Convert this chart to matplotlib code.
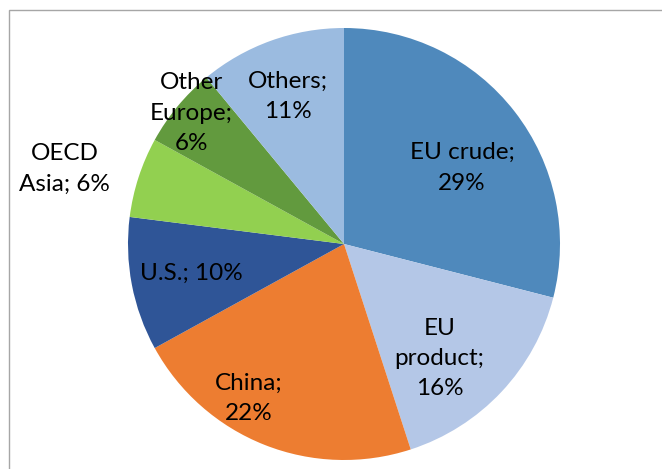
import numpy as np
import matplotlib
matplotlib.use('Agg')
import matplotlib.pyplot as plt
from matplotlib.patches import Rectangle

# data
labels = ['EU crude', 'EU\nproduct', 'China', 'U.S.', 'OECD\nAsia', 'Other\nEurope', 'Others']
shares = [29, 16, 22, 10, 6, 6, 11]
colors = ['#4F89BC', '#B4C7E7', '#ED7D31', '#2F5597', '#92D050', '#629A3E', '#9BBBE0']
# label layout (fraction of radius, angle tweak in degrees, text)
label_text = ['EU crude;\n29%', 'EU\nproduct;\n16%', 'China;\n22%', 'U.S.; 10%',
              'OECD\nAsia; 6%', 'Other\nEurope;\n6%', 'Others;\n11%']
label_r = [0.65, 0.69, 0.84, 0.72, 1.34, 0.93, 0.73]
label_da = [5, 7, 10, 0, -3, 1, -1]

W, H = 662, 469
fig = plt.figure(figsize=(W / 100, H / 100), dpi=100)

# chart frame (only left/top visible in the crop)
fig.patches.append(Rectangle((9 / W, -0.1), 1.2, 1 - 10 / H + 0.1, transform=fig.transFigure,
                             fill=False, edgecolor='#A6A6A6', linewidth=1.0))

cx, cy, R = 344, 244, 216
ax = fig.add_axes([(cx - R) / W, (H - cy - R) / H, 2 * R / W, 2 * R / H])
wedges, _ = ax.pie(shares, colors=colors, startangle=90, counterclock=False,
                   radius=1.0, wedgeprops=dict(linewidth=0))
ax.set_xlim(-1, 1)
ax.set_ylim(-1, 1)
ax.set_aspect('equal')
ax.axis('off')

total = sum(shares)
start = 0
for i, s in enumerate(shares):
    mid = (start + s / 2) / total * 360 + label_da[i]
    ang = np.deg2rad(mid)
    x = label_r[i] * np.sin(ang)
    y = label_r[i] * np.cos(ang)
    ax.text(x, y, label_text[i], ha='center', va='center', fontsize=17.5,
            family=['Lato', 'DejaVu Sans'], linespacing=1.55, color='black')
    start += s

fig.savefig('out.png', dpi=100)
